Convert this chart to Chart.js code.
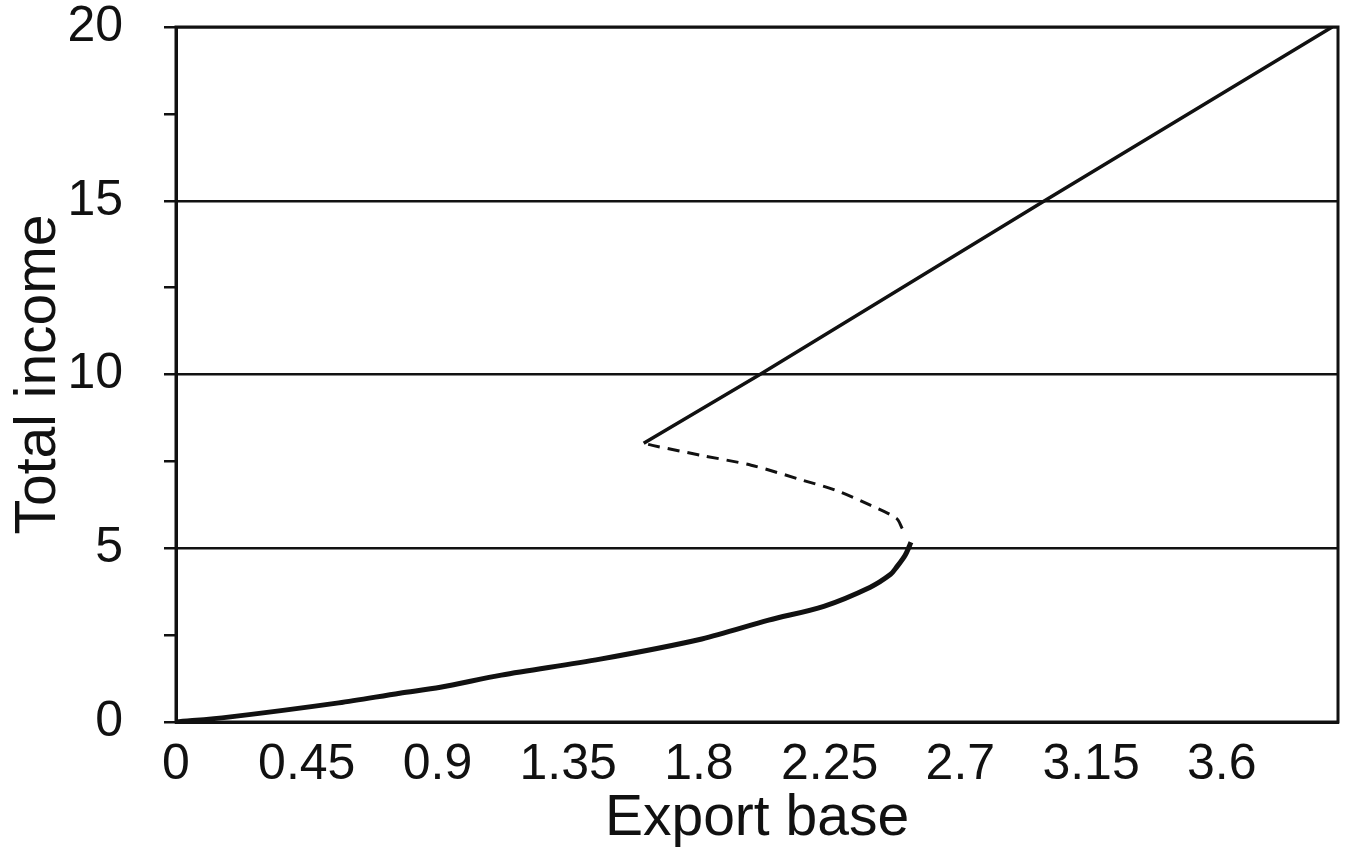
<!DOCTYPE html>
<html><head><meta charset="utf-8">
<script src="https://cdn.jsdelivr.net/npm/chart.js@4/dist/chart.umd.min.js"></script>
<style>html,body{margin:0;padding:0;background:#fff}#wrap{width:1348px;height:858px}</style>
</head><body><div id="wrap"><canvas id="c" width="1348" height="858"></canvas></div>
<script>
// Tick labels
const xTickValues = [0, 0.45, 0.9, 1.35, 1.8, 2.25, 2.7, 3.15, 3.6];
const xTickLabels = ['0', '0.45', '0.9', '1.35', '1.8', '2.25', '2.7', '3.15', '3.6'];
const yLabelValues = [0, 5, 10, 15, 20];

// Stable lower branch
const lowerX = [0, 0.18, 0.56, 0.77, 0.91, 1.12, 1.46, 1.81, 2.04, 2.23, 2.39, 2.46, 2.48, 2.51, 2.53];
const lowerY = [0, 0.14, 0.55, 0.83, 1.0, 1.35, 1.81, 2.39, 2.93, 3.33, 3.88, 4.25, 4.45, 4.8, 5.17];
// Unstable middle branch (dashed)
const middleX = [2.50, 2.48, 2.39, 2.27, 2.16, 1.98, 1.81, 1.64, 1.61];
const middleY = [5.57, 5.86, 6.24, 6.67, 6.95, 7.39, 7.67, 7.96, 8.02];
// Stable upper branch
const upperX = [1.61, 2.01, 2.99, 3.98];
const upperY = [8.02, 10.0, 15.0, 20.0];

const pts = (xs, ys) => xs.map((x, i) => ({x: x, y: ys[i]}));
const FONT = 'Liberation Sans, Arial, sans-serif';

const framePlugin = {
  id: 'frame',
  afterDatasetsDraw(chart) {
    const {ctx, chartArea: a} = chart;
    ctx.save();
    ctx.strokeStyle = '#111';
    ctx.lineWidth = 3;
    ctx.strokeRect(a.left, a.top, a.right - a.left, a.bottom - a.top);
    ctx.restore();
  }
};

new Chart(document.getElementById('c'), {
  type: 'scatter',
  data: {
    datasets: [
      {data: pts(lowerX, lowerY), showLine: true, borderColor: '#111', borderWidth: 5, tension: 0.3, pointRadius: 0},
      {data: pts(middleX, middleY), showLine: true, borderColor: '#111', borderWidth: 3, borderDash: [12, 8], tension: 0.3, pointRadius: 0},
      {data: pts(upperX, upperY), showLine: true, borderColor: '#111', borderWidth: 3.5, tension: 0, pointRadius: 0}
    ]
  },
  options: {
    responsive: false,
    animation: false,
    events: [],
    layout: {padding: {top: 27, right: 10, left: 0, bottom: 0}},
    plugins: {legend: {display: false}, tooltip: {enabled: false}},
    scales: {
      x: {
        type: 'linear', min: 0, max: 4,
        afterBuildTicks: s => { s.ticks = xTickValues.map(v => ({value: v})); },
        afterFit: s => { s.height = 136; s.paddingLeft = 0; s.paddingRight = 0; },
        grid: {display: false, drawTicks: false},
        border: {display: true, color: '#111', width: 3},
        ticks: {
          color: '#111', padding: 13, maxRotation: 0, autoSkip: false,
          font: {family: FONT, size: 50},
          callback: (v) => { const i = xTickValues.findIndex(t => Math.abs(t - v) < 1e-6); return i >= 0 ? xTickLabels[i] : ''; }
        },
        title: {display: true, text: 'Export base', color: '#111', font: {family: FONT, size: 57}, padding: {top: 0, bottom: 5}}
      },
      y: {
        type: 'linear', min: 0, max: 20,
        afterFit: s => { s.width = 176; s.paddingTop = 0; s.paddingBottom = 0; },
        grid: {
          color: c => (c.tick && yLabelValues.includes(c.tick.value)) ? '#111' : 'rgba(0,0,0,0)',
          tickColor: '#111', lineWidth: 2.5, drawTicks: true, tickLength: 12
        },
        border: {display: true, color: '#111', width: 3},
        ticks: {
          stepSize: 2.5, color: '#111', padding: 41,
          font: {family: FONT, size: 50},
          callback: v => yLabelValues.includes(v) ? String(v) : ''
        },
        title: {display: true, text: 'Total income', color: '#111', font: {family: FONT, size: 57}, padding: {top: 5, bottom: 0}}
      }
    }
  },
  plugins: [framePlugin]
});
</script></body></html>
